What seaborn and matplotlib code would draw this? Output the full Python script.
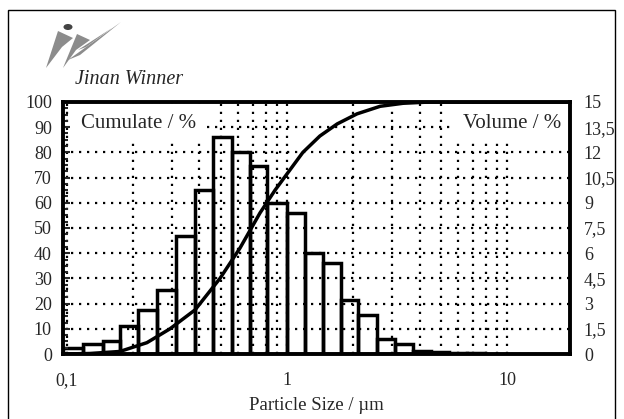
import numpy as np
import matplotlib
matplotlib.use("Agg")
import matplotlib.pyplot as plt
import seaborn as sns
from matplotlib.ticker import MultipleLocator, NullFormatter
from matplotlib.patches import Polygon, Circle, Rectangle

# particle size classes (um, class edges) and volume % in each class
bin_edges = [0.096, 0.118, 0.146, 0.174, 0.21, 0.256, 0.313, 0.382, 0.461, 0.562,
             0.679, 0.811, 1.0, 1.21, 1.46, 1.76, 2.10, 2.56, 3.10, 3.74,
             4.51, 5.45, 6.58, 7.94]
volume = [0.38, 0.6, 0.75, 1.65, 2.6, 3.8, 7.0, 9.75, 12.9, 12.0,
          11.2, 9.0, 8.4, 6.0, 5.4, 3.2, 2.3, 0.9, 0.6, 0.18, 0.12, 0.08, 0.05]

# cumulative curve
cum_size = [0.096, 0.127, 0.174, 0.231, 0.294, 0.382, 0.496, 0.611, 0.754, 0.882,
            1.03, 1.18, 1.41, 1.69, 2.08, 2.65, 3.37, 4.47, 19.3]
cum_pct = [0, 0.2, 1.0, 4.5, 10, 17.5, 30, 42, 56, 65,
           73, 80, 86.5, 91.3, 95.3, 98.3, 99.5, 100, 100]

left_ticks = [0, 10, 20, 30, 40, 50, 60, 70, 80, 90, 100]
right_ticks = [0, 1.5, 3, 4.5, 6, 7.5, 9, 10.5, 12, 13.5, 15]
right_labels = ["0", "1,5", "3", "4,5", "6", "7,5", "9", "10,5", "12", "13,5", "15"]
x_ticks = [0.1, 1, 10]
x_labels = ["0,1", "1", "10"]

sns.set_style("white")
plt.rcParams['font.family'] = ['Liberation Serif', 'DejaVu Serif']

W, H = 624, 419
fig = plt.figure(figsize=(W / 100, H / 100), dpi=100)
fig.patch.set_facecolor("white")
ax = fig.add_axes([63 / W, 1 - 354 / H, (570 - 63) / W, (354 - 102) / H])
ax2 = ax.twinx()

dots = (0, (1, 2.6))

# bars (volume, right axis)
edges = np.array(bin_edges)
ax2.bar(edges[:-1], volume, width=np.diff(edges), align="edge",
        facecolor="none", edgecolor="black", linewidth=2.5)

# cumulative curve (left axis)
sns.lineplot(x=cum_size, y=cum_pct, color="black", linewidth=2.5, ax=ax)

ax.set_zorder(ax2.get_zorder() + 1)
ax.patch.set_visible(False)

ax.set_xscale("log")
ax.set_xlim(0.096, 19.3)
ax.set_ylim(0, 100)
ax2.set_ylim(0, 15)

ax.set_xticks(x_ticks, x_labels)
ax.xaxis.set_minor_formatter(NullFormatter())
ax.set_yticks(left_ticks)
ax.yaxis.set_minor_locator(MultipleLocator(2.5))
ax2.set_yticks(right_ticks, right_labels)

ax.grid(True, which="both", axis="x", color="black", linestyle=dots, linewidth=1.6)
ax.grid(True, which="major", axis="y", color="black", linestyle=dots, linewidth=1.6)

ax.tick_params(axis="x", which="both", length=0, labelsize=13, pad=13)
ax.tick_params(axis="y", which="major", direction="in", length=5, width=1.5,
               labelsize=13, pad=8)
ax.tick_params(axis="y", which="minor", direction="in", length=3.5, width=1.5)
ax2.tick_params(axis="y", length=0, labelsize=13, pad=10)

for s in ax.spines.values():
    s.set_linewidth(2.8)
    s.set_color("black")
    s.set_zorder(6)
for s in ax2.spines.values():
    s.set_visible(False)

ax.set_xlabel("Particle Size / µm", fontsize=13.5, labelpad=6)
ax.set_ylabel("")
ax2.set_ylabel("")

box = dict(facecolor="white", edgecolor="none", pad=7)
ax.text(0.035, 0.915, "Cumulate / %", transform=ax.transAxes, fontsize=15,
        va="center", ha="left", bbox=box, zorder=5)
ax.text(0.982, 0.915, "Volume / %", transform=ax.transAxes, fontsize=15,
        va="center", ha="right", bbox=box, zorder=5)

# logo and frame
def px(x, y):
    return (x / W, 1 - y / H)

gray = "#8c8c8c"
fig.patches.append(Polygon([px(46, 68), px(58, 31), px(73, 38), px(62, 47)],
                           closed=True, transform=fig.transFigure, facecolor=gray,
                           edgecolor="none"))
fig.patches.append(Polygon([px(63, 68), px(77, 34), px(90, 40), px(76, 50)],
                           closed=True, transform=fig.transFigure, facecolor=gray,
                           edgecolor="none"))
fig.patches.append(Polygon([px(68, 60), px(121, 22), px(80, 55)],
                           closed=True, transform=fig.transFigure, facecolor=gray,
                           edgecolor="none"))
fig.patches.append(Polygon([px(78, 50), px(112, 28), px(86, 47)],
                           closed=True, transform=fig.transFigure, facecolor=gray,
                           edgecolor="none"))
fig.patches.append(Circle(px(68, 27), 4.5 / W, transform=fig.transFigure,
                          facecolor="#444444", edgecolor="none"))
fig.text(75 / W, 1 - 80 / H, "Jinan Winner", fontsize=14.5, style="italic",
         va="center", ha="left")
fig.patches.append(Rectangle(px(8, 425), (615 - 8) / W, (425 - 10) / H,
                             transform=fig.transFigure, fill=False,
                             edgecolor="black", linewidth=1.0))

fig.savefig("out.png", dpi=100)
